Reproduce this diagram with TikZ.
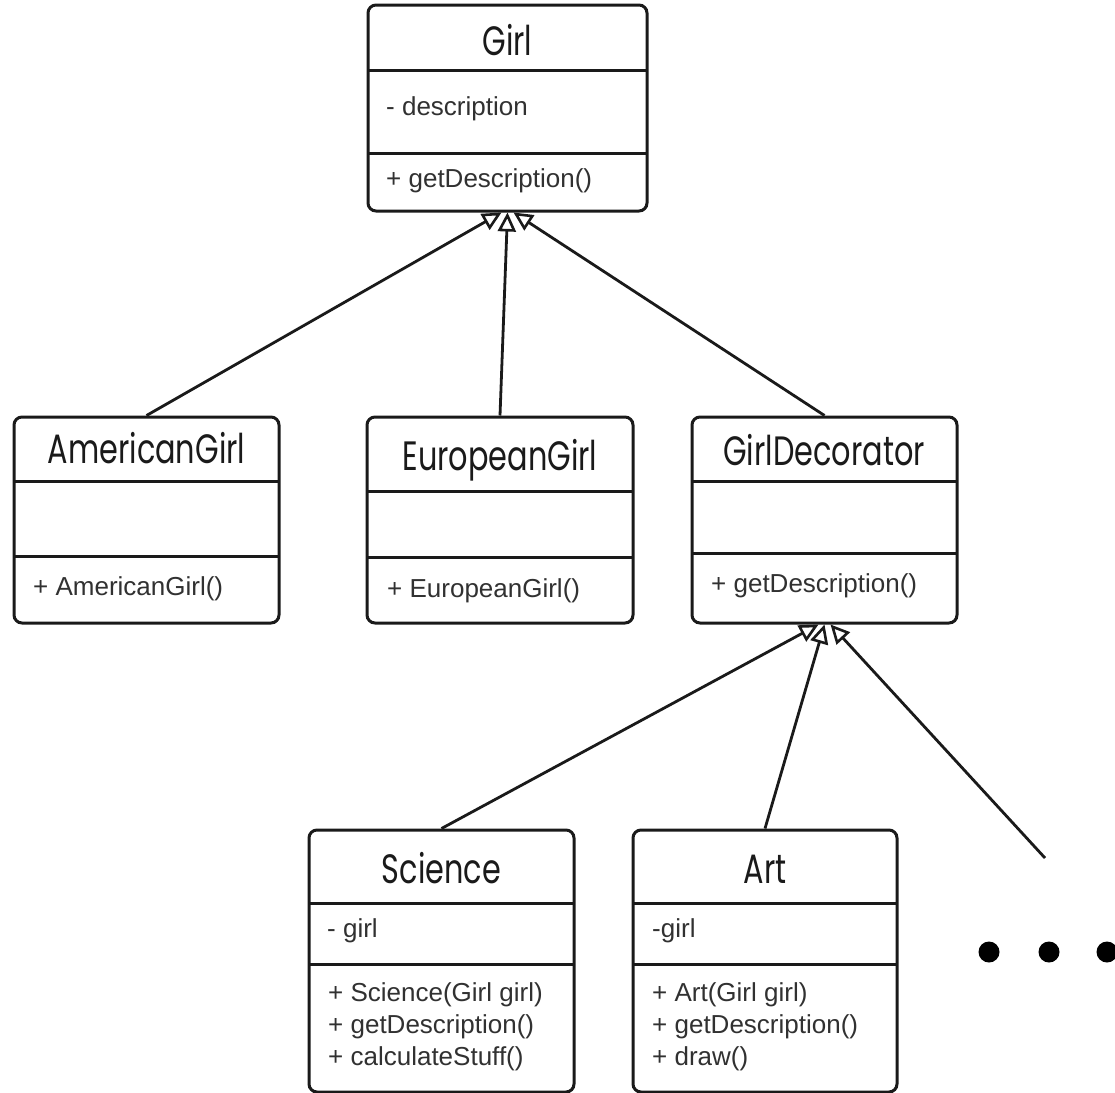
\documentclass[tikz,border=0pt]{standalone}
\usepackage{fontspec}
\setmainfont{Liberation Sans}
\newfontfamily\titlefont[FakeStretch=0.74]{Poppins}
\usetikzlibrary{arrows.meta}
\definecolor{ink}{HTML}{1A1A1A}
\tikzset{
  cls/.style={draw=ink, line width=3pt, rounded corners=8pt, inner sep=0pt, fill=white},
  divider/.style={draw=ink, line width=3pt},
  ttl/.style={anchor=base, inner sep=0pt, font=\titlefont\fontsize{41}{48}\selectfont, text=ink},
  mbr/.style={anchor=base west, inner sep=0pt, font=\fontsize{26}{31}\selectfont, text=ink!90},
  inherit/.style={draw=ink, line width=2.8pt, -{Triangle[open, length=19pt, width=18pt, line width=2.6pt]}},
  dot/.style={circle, fill=black, inner sep=0pt, minimum size=21pt}
}
\begin{document}
\begin{tikzpicture}[x=1pt, y=-1pt]
\useasboundingbox (0,0) rectangle (1115,1092);
% ---- Girl
\node[cls, minimum width=279pt, minimum height=206pt] (girl) at (507.5,108) {};
\draw[divider] (368,70) -- (647,70);
\draw[divider] (368,153) -- (647,153);
\node[ttl] (girlT) at (507.5,55) {Girl};
\node[mbr] (girlA) at (386,115) {- description};
\node[mbr] (girlM) at (386,187) {+ getDescription()};
% ---- AmericanGirl
\node[cls, minimum width=265pt, minimum height=206pt] (amer) at (146.5,520) {};
\draw[divider] (14,481) -- (279,481);
\draw[divider] (14,556) -- (279,556);
\node[ttl] (amerT) at (146.5,463) {AmericanGirl};
\node[mbr] (amerM) at (33,595) {+ AmericanGirl()};
% ---- EuropeanGirl
\node[cls, minimum width=266pt, minimum height=206pt] (euro) at (500,520) {};
\draw[divider] (367,491) -- (633,491);
\draw[divider] (367,557) -- (633,557);
\node[ttl] (euroT) at (500,470) {EuropeanGirl};
\node[mbr] (euroM) at (387,597) {+ EuropeanGirl()};
% ---- GirlDecorator
\node[cls, minimum width=265pt, minimum height=206pt] (deco) at (824.5,520) {};
\draw[divider] (692,481) -- (957,481);
\draw[divider] (692,553) -- (957,553);
\node[ttl] (decoT) at (824,465) {GirlDecorator};
\node[mbr] (decoM) at (711,592) {+ getDescription()};
% ---- Science
\node[cls, minimum width=265pt, minimum height=262pt] (sci) at (441.5,961) {};
\draw[divider] (309,903) -- (574,903);
\draw[divider] (309,964) -- (574,964);
\node[ttl] (sciT) at (441.5,883) {Science};
\node[mbr] (sciA) at (327,937) {- girl};
\node[mbr] (sciM1) at (328,1001) {+ Science(Girl girl)};
\node[mbr] (sciM2) at (328,1033) {+ getDescription()};
\node[mbr] (sciM3) at (328,1065) {+ calculateStuff()};
% ---- Art
\node[cls, minimum width=264pt, minimum height=262pt] (art) at (765,961) {};
\draw[divider] (633,903) -- (897,903);
\draw[divider] (633,964) -- (897,964);
\node[ttl] (artT) at (765,883) {Art};
\node[mbr] (artA) at (652,937) {-girl};
\node[mbr] (artM1) at (652,1001) {+ Art(Girl girl)};
\node[mbr] (artM2) at (652,1033) {+ getDescription()};
\node[mbr] (artM3) at (652,1065) {+ draw()};
% ---- dots
\node[dot] (d1) at (989,952) {};
\node[dot] (d2) at (1049,952) {};
\node[dot] (d3) at (1107,952) {};
% ---- connectors
\coordinate (gL) at ([xshift=-6pt]girl.south);
\coordinate (gM) at (girl.south);
\coordinate (gR) at ([xshift=6pt]girl.south);
\coordinate (dL) at ([xshift=-6pt]deco.south);
\coordinate (dM) at (deco.south);
\coordinate (dR) at ([xshift=6pt]deco.south);
\coordinate (more) at (1045,858);
\draw[inherit] (amer.north) -- (gL);
\draw[inherit] (euro.north) -- (gM);
\draw[inherit] (deco.north) -- (gR);
\draw[inherit] (sci.north) -- (dL);
\draw[inherit] (art.north) -- (dM);
\draw[inherit] (more) -- (dR);
\end{tikzpicture}
\end{document}
